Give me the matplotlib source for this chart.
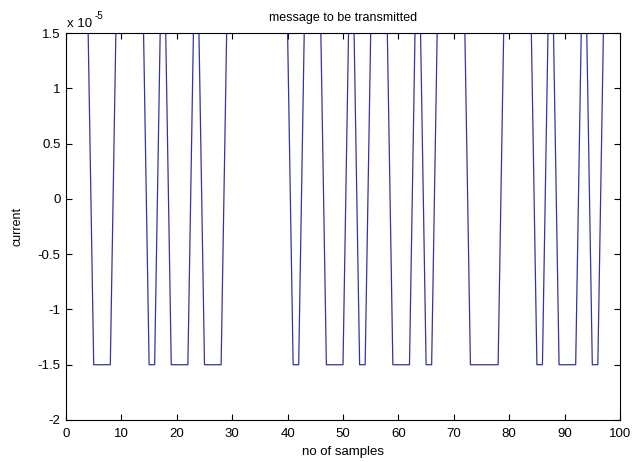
import numpy as np
import matplotlib
matplotlib.use("Agg")
import matplotlib.pyplot as plt
from matplotlib.ticker import FuncFormatter

plt.rcParams["font.family"] = ["Liberation Sans", "DejaVu Sans"]
plt.rcParams["axes.unicode_minus"] = False

# message bits, one per sample (1 = high current, 0 = low current)
message = [
    1, 1, 1, 1, 0, 0, 0, 0, 1, 1,
    1, 1, 1, 1, 0, 0, 1, 1, 0, 0,
    0, 0, 1, 1, 0, 0, 0, 0, 1, 1,
    1, 1, 1, 1, 1, 1, 1, 1, 1, 1,
    0, 0, 1, 1, 1, 1, 0, 0, 0, 0,
    1, 1, 0, 0, 1, 1, 1, 1, 0, 0,
    0, 0, 1, 1, 0, 0, 1, 1, 1, 1,
    1, 1, 0, 0, 0, 0, 0, 0, 1, 1,
    1, 1, 1, 1, 0, 0, 1, 1, 0, 0,
    0, 0, 1, 1, 0, 0, 1, 1, 1, 1,
]
amplitude = 1.5e-5
scale = 1e-5

samples = np.arange(1, len(message) + 1)
current = amplitude * (2 * np.array(message) - 1)

W, H = 634, 462
fig = plt.figure(figsize=(W / 100, H / 100), dpi=100)
fig.patch.set_facecolor("white")
ax = fig.add_axes([66 / W, (H - 420) / H, (620 - 66) / W, (420 - 33) / H])

ax.plot(samples, current, color="#34349c", linewidth=0.9, zorder=2)

ax.set_xlim(0, 100)
ax.set_ylim(-2e-5, 1.5e-5)
ax.set_xticks(np.arange(0, 101, 10))
ax.set_yticks(np.arange(-2, 1.51, 0.5) * scale)
ax.yaxis.set_major_formatter(FuncFormatter(lambda v, p: "%g" % round(v / scale, 2)))

ax.tick_params(direction="in", length=4, width=0.8, labelsize=9.5,
               top=True, right=True, colors="black")
ax.tick_params(axis="x", pad=6)
ax.tick_params(axis="y", pad=4)
for s in ax.spines.values():
    s.set_linewidth(0.8)
    s.set_color("black")
    s.set_zorder(5)

ax.set_title("message to be transmitted", fontsize=9, pad=9)
ax.set_xlabel("no of samples", fontsize=9.5, labelpad=4)
ax.set_ylabel("current", fontsize=9, labelpad=10)

# MATLAB style exponent label above the axes
fig.text(67 / W, 1 - 27 / H, "x 10", fontsize=9.5, ha="left", va="baseline")
fig.text(95 / W, 1 - 19 / H, "-5", fontsize=7, ha="left", va="baseline")

fig.savefig("out.png", dpi=100, facecolor="white")
